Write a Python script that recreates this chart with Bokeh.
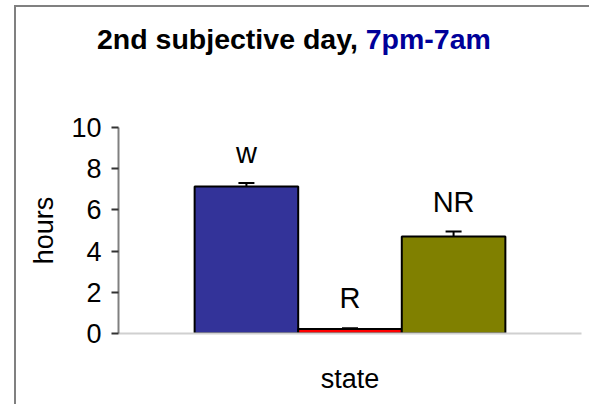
from bokeh.plotting import figure
from bokeh.layouts import column
from bokeh.models import (ColumnDataSource, FactorRange, Range1d, Whisker, TeeHead,
                          FixedTicker, Div)
from bokeh.core.properties import value
from bokeh.embed import file_html
from bokeh.resources import INLINE

states = ["W", "R", "NR"]
state_labels = ["w", "R", "NR"]
hours = [7.14, 0.22, 4.71]
errors = [0.17, 0.04, 0.24]
colors = ["#333399", "#FF0000", "#808000"]
y_ticks = [0, 2, 4, 6, 8, 10]
title_main = "2nd subjective day,"
title_time = "7pm-7am"

upper = [h + e for h, e in zip(hours, errors)]
src = ColumnDataSource(dict(state=states, label=state_labels, hours=hours,
                            upper=upper, color=colors))

FONT = "Liberation Sans"
W = 573

# ---- title (HTML text, two colours) ----
title_html = (
    '<div style="position:absolute; left:81px; top:16px; white-space:nowrap; '
    "font-family:'Liberation Sans', Arial, sans-serif; font-weight:bold; "
    'font-size:28.5px; line-height:normal; color:black;">'
    f'{title_main} <span style="color:#000099;">{title_time}</span></div>'
)
t = Div(text=title_html, width=W, height=100, margin=0,
        styles={"position": "relative", "overflow": "visible"})

# ---- chart ----
p = figure(width=W, height=297, output_backend="svg", toolbar_location=None,
           x_range=FactorRange(*states, range_padding=0.49),
           y_range=Range1d(0, 10),
           min_border_left=102, min_border_right=8, min_border_top=20,
           min_border_bottom=71)
p.outline_line_color = None
p.grid.grid_line_color = None
p.background_fill_color = "white"
p.border_fill_color = "white"

p.vbar(x="state", top="hours", width=1.0, source=src, fill_color="color",
       line_color="black", line_width=2)

w = Whisker(source=src, base="state", upper="upper", lower="hours",
            line_color="black", line_width=2,
            upper_head=TeeHead(size=16, line_color="black", line_width=2),
            lower_head=None)
p.add_layout(w)

p.text(x="state", y="upper", text="label", source=src, text_align="center",
       text_baseline="bottom", y_offset=-14, text_font_size="29px",
       text_font=value(FONT), text_color="black")

yax = p.yaxis[0]
yax.ticker = FixedTicker(ticks=y_ticks)
yax.axis_label = "hours"
yax.axis_label_text_font = FONT
yax.axis_label_text_font_size = "27px"
yax.axis_label_text_font_style = "normal"
yax.axis_label_text_color = "black"
yax.axis_label_standoff = 9
yax.major_label_text_font = FONT
yax.major_label_text_font_size = "27px"
yax.major_label_text_color = "black"
yax.major_label_standoff = 10
yax.axis_line_color = "#808080"
yax.axis_line_width = 2
yax.major_tick_line_color = "#333333"
yax.major_tick_line_width = 2
yax.major_tick_out = 7
yax.major_tick_in = 0
yax.minor_tick_line_color = None

xax = p.xaxis[0]
xax.axis_label = "state"
xax.axis_label_text_font = FONT
xax.axis_label_text_font_size = "27px"
xax.axis_label_text_font_style = "normal"
xax.axis_label_text_color = "black"
xax.axis_label_standoff = 24
xax.major_label_text_font_size = "0px"
xax.major_label_text_color = None
xax.major_tick_line_color = None
xax.minor_tick_line_color = None
xax.axis_line_color = "#d0d0d0"
xax.axis_line_width = 2
xax.group_text_font_size = "0px"

layout = column(t, p, spacing=0,
                styles={"margin-left": "14px", "margin-top": "5px",
                        "border-left": "2px solid #808080",
                        "border-top": "2px solid #808080",
                        "background": "white"})

open("out.html", "w").write(file_html(layout, INLINE))
